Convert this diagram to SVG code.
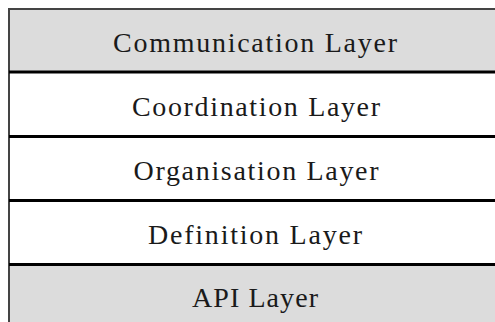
<svg xmlns="http://www.w3.org/2000/svg" width="495" height="322" viewBox="0 0 495 322">
<style>
.gray{fill:#dcdcdc}
.white{fill:#ffffff}
.lbl{font-family:"Liberation Serif","Times New Roman",serif;font-size:28px;fill:#1a1a1a;text-anchor:middle}
.div{stroke:#000;stroke-width:3}
.edge{stroke:#444;stroke-width:2}
</style>
<rect x="0" y="0" width="495" height="322" fill="#ffffff"/>
<g id="communication-layer">
<rect class="gray" x="9" y="9" width="486" height="63"/>
<text class="lbl" x="255" y="52" textLength="284" lengthAdjust="spacing">Communication Layer</text>
</g>
<g id="coordination-layer">
<rect class="white" x="9" y="72" width="486" height="64"/>
<text class="lbl" x="256" y="116" textLength="248" lengthAdjust="spacing">Coordination Layer</text>
</g>
<g id="organisation-layer">
<rect class="white" x="9" y="136" width="486" height="64"/>
<text class="lbl" x="256" y="180" textLength="245" lengthAdjust="spacing">Organisation Layer</text>
</g>
<g id="definition-layer">
<rect class="white" x="9" y="200" width="486" height="64"/>
<text class="lbl" x="255" y="244" textLength="214" lengthAdjust="spacing">Definition Layer</text>
</g>
<g id="api-layer">
<rect class="gray" x="9" y="264" width="486" height="58"/>
<text class="lbl" x="255" y="307" textLength="126" lengthAdjust="spacing">API Layer</text>
</g>
<g id="borders">
<line class="edge" x1="9" y1="8" x2="9" y2="322"/>
<line class="edge" x1="8" y1="9" x2="495" y2="9"/>
<line class="div" x1="9" y1="72" x2="495" y2="72"/>
<line class="div" x1="9" y1="136.5" x2="495" y2="136.5"/>
<line class="div" x1="9" y1="200.5" x2="495" y2="200.5"/>
<line class="div" x1="9" y1="264.5" x2="495" y2="264.5"/>
</g>
</svg>
